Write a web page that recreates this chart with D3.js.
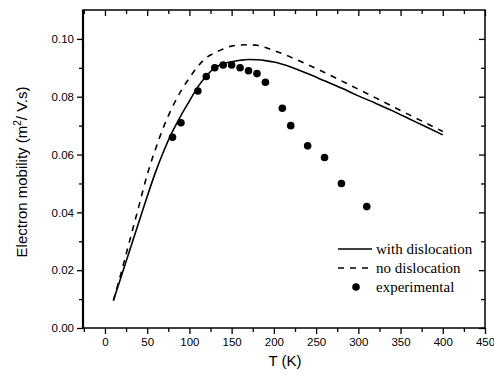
<!DOCTYPE html>
<html lang="en">
<head>
    <meta charset="UTF-8">
    <title>Electron mobility vs T</title>
    <script src="https://d3js.org/d3.v7.min.js"></script>
    <style>
        body { margin: 0; padding: 0; background: #fff; }
        svg { display: block; }
        .tick text { font-family: Arial, "Liberation Sans", sans-serif; font-size: 11.5px; }
        .legend text { font-family: "Times New Roman", "Liberation Serif", serif; font-size: 15px; }
    </style>
</head>
<body>
    <div id="chart"></div>
    <script>
        // curve: with dislocation
        const tWith = [10, 20, 30, 40, 50, 60, 70, 80, 90, 100, 110, 120, 130, 140, 150, 160, 170, 180, 190, 200,
                       220, 240, 260, 280, 300, 320, 340, 360, 380, 400];
        const muWith = [0.0095, 0.0185, 0.0275, 0.0365, 0.0455, 0.054, 0.0615, 0.068, 0.0735, 0.0785, 0.0834, 0.0872, 0.0900, 0.0914, 0.0921, 0.0926, 0.0929, 0.0928, 0.0925, 0.0920,
                        0.0903, 0.0880, 0.0855, 0.0830, 0.0803, 0.0778, 0.0752, 0.0724, 0.0696, 0.0668];

        // curve: no dislocation
        const tNo = tWith;
        const muNo = [0.0095, 0.020, 0.031, 0.042, 0.053, 0.062, 0.070, 0.0765, 0.082, 0.0865, 0.0905, 0.0935, 0.0952, 0.0965, 0.0975, 0.0979, 0.0980, 0.0978, 0.0970, 0.0960,
                      0.0937, 0.0911, 0.0884, 0.0855, 0.0826, 0.0797, 0.0767, 0.0738, 0.0709, 0.0680];

        // experimental points
        const tExp = [80, 90, 110, 120, 130, 140, 150, 160, 170, 180, 190, 210, 220, 240, 260, 280, 310];
        const muExp = [0.066, 0.071, 0.082, 0.087, 0.090, 0.091, 0.091, 0.090, 0.089, 0.088, 0.085, 0.076, 0.070, 0.063, 0.059, 0.050, 0.042];

        const xTicks = [0, 50, 100, 150, 200, 250, 300, 350, 400, 450];
        const yTicks = [0, 0.02, 0.04, 0.06, 0.08, 0.10];
        const legendLabels = ["with dislocation", "no dislocation", "experimental"];

        const width = 494, height = 378;
        const margin = { top: 10, right: 9, bottom: 50, left: 83 };
        const iw = width - margin.left - margin.right;
        const ih = height - margin.top - margin.bottom;

        const svg = d3.select("#chart").append("svg")
            .attr("width", width)
            .attr("height", height);
        const g = svg.append("g").attr("transform", `translate(${margin.left},${margin.top})`);

        const x = d3.scaleLinear().domain([-26, 450]).range([0, iw]);
        const y = d3.scaleLinear().domain([0, 0.11]).range([ih, 0]);

        const xMinor = d3.range(-25, 451, 25).filter(v => v % 50 !== 0);
        const yMinor = d3.range(0.01, 0.11, 0.02);

        // axes (major + minor)
        function styleAxis(sel, w) {
            sel.select(".domain").remove();
            sel.selectAll(".tick line").attr("stroke", "#000").attr("stroke-width", w);
        }
        const bottom = g.append("g").attr("transform", `translate(0,${ih})`)
            .call(d3.axisBottom(x).tickValues(xTicks).tickSize(6).tickPadding(4).tickFormat(d3.format("d")));
        styleAxis(bottom, 1.3);
        g.append("g").attr("transform", `translate(0,${ih})`)
            .call(d3.axisBottom(x).tickValues(xMinor).tickSize(4).tickFormat(""))
            .call(s => styleAxis(s, 1.3));

        const left = g.append("g")
            .call(d3.axisLeft(y).tickValues(yTicks).tickSize(6).tickPadding(3).tickFormat(d3.format(".2f")));
        styleAxis(left, 1.3);
        g.append("g").call(d3.axisLeft(y).tickValues(yMinor).tickSize(4).tickFormat(""))
            .call(s => styleAxis(s, 1.3));

        g.append("g").call(d3.axisTop(x).tickValues(xTicks).tickSize(-6).tickFormat(""))
            .call(s => styleAxis(s, 1.3));
        g.append("g").call(d3.axisTop(x).tickValues(xMinor).tickSize(-4).tickFormat(""))
            .call(s => styleAxis(s, 1.3));
        g.append("g").attr("transform", `translate(${iw},0)`)
            .call(d3.axisRight(y).tickValues(yTicks).tickSize(-6).tickFormat(""))
            .call(s => styleAxis(s, 1.3));
        g.append("g").attr("transform", `translate(${iw},0)`)
            .call(d3.axisRight(y).tickValues(yMinor).tickSize(-4).tickFormat(""))
            .call(s => styleAxis(s, 1.3));

        // frame
        g.append("rect").attr("width", iw).attr("height", ih)
            .attr("fill", "none").attr("stroke", "#000").attr("stroke-width", 1.5);
        g.append("line").attr("x1", 0).attr("x2", 0).attr("y1", 0).attr("y2", ih)
            .attr("stroke", "#000").attr("stroke-width", 2.2);

        // curves
        const line = d3.line().x(d => x(d[0])).y(d => y(d[1])).curve(d3.curveMonotoneX);
        g.append("path").datum(d3.zip(tWith, muWith))
            .attr("d", line).attr("fill", "none").attr("stroke", "#000").attr("stroke-width", 1.6);
        g.append("path").datum(d3.zip(tNo, muNo))
            .attr("d", line).attr("fill", "none").attr("stroke", "#000").attr("stroke-width", 1.6)
            .attr("stroke-dasharray", "6,6");

        g.selectAll(".dot").data(d3.zip(tExp, muExp)).enter().append("circle")
            .attr("class", "dot")
            .attr("cx", d => x(d[0])).attr("cy", d => y(d[1])).attr("r", 3.8)
            .attr("fill", "#000");

        // axis titles
        svg.append("text")
            .attr("x", 285).attr("y", 366)
            .attr("text-anchor", "middle")
            .style("font-family", "Arial, 'Liberation Sans', sans-serif").style("font-size", "15px")
            .text("T (K)");

        const yl = svg.append("text")
            .attr("transform", "translate(27,172) rotate(-90)")
            .attr("text-anchor", "middle")
            .style("font-family", "Arial, 'Liberation Sans', sans-serif").style("font-size", "15px");
        yl.append("tspan").text("Electron mobility (m");
        yl.append("tspan").attr("dy", -6).style("font-size", "10px").text("2");
        yl.append("tspan").attr("dy", 6).text("/ V.s)");

        // legend
        const lg = svg.append("g").attr("class", "legend");
        const lx = 338, ly = 249, step = 19;
        lg.append("line").attr("x1", lx).attr("x2", lx + 34).attr("y1", ly).attr("y2", ly)
            .attr("stroke", "#000").attr("stroke-width", 1.6);
        lg.append("line").attr("x1", lx).attr("x2", lx + 34).attr("y1", ly + step).attr("y2", ly + step)
            .attr("stroke", "#000").attr("stroke-width", 1.6).attr("stroke-dasharray", "6,6");
        lg.append("circle").attr("cx", lx + 18).attr("cy", ly + 2 * step).attr("r", 3.8).attr("fill", "#000");
        legendLabels.forEach((t, i) => {
            lg.append("text").attr("x", lx + 38).attr("y", ly + i * step + 5).text(t);
        });
    </script>
</body>
</html>
